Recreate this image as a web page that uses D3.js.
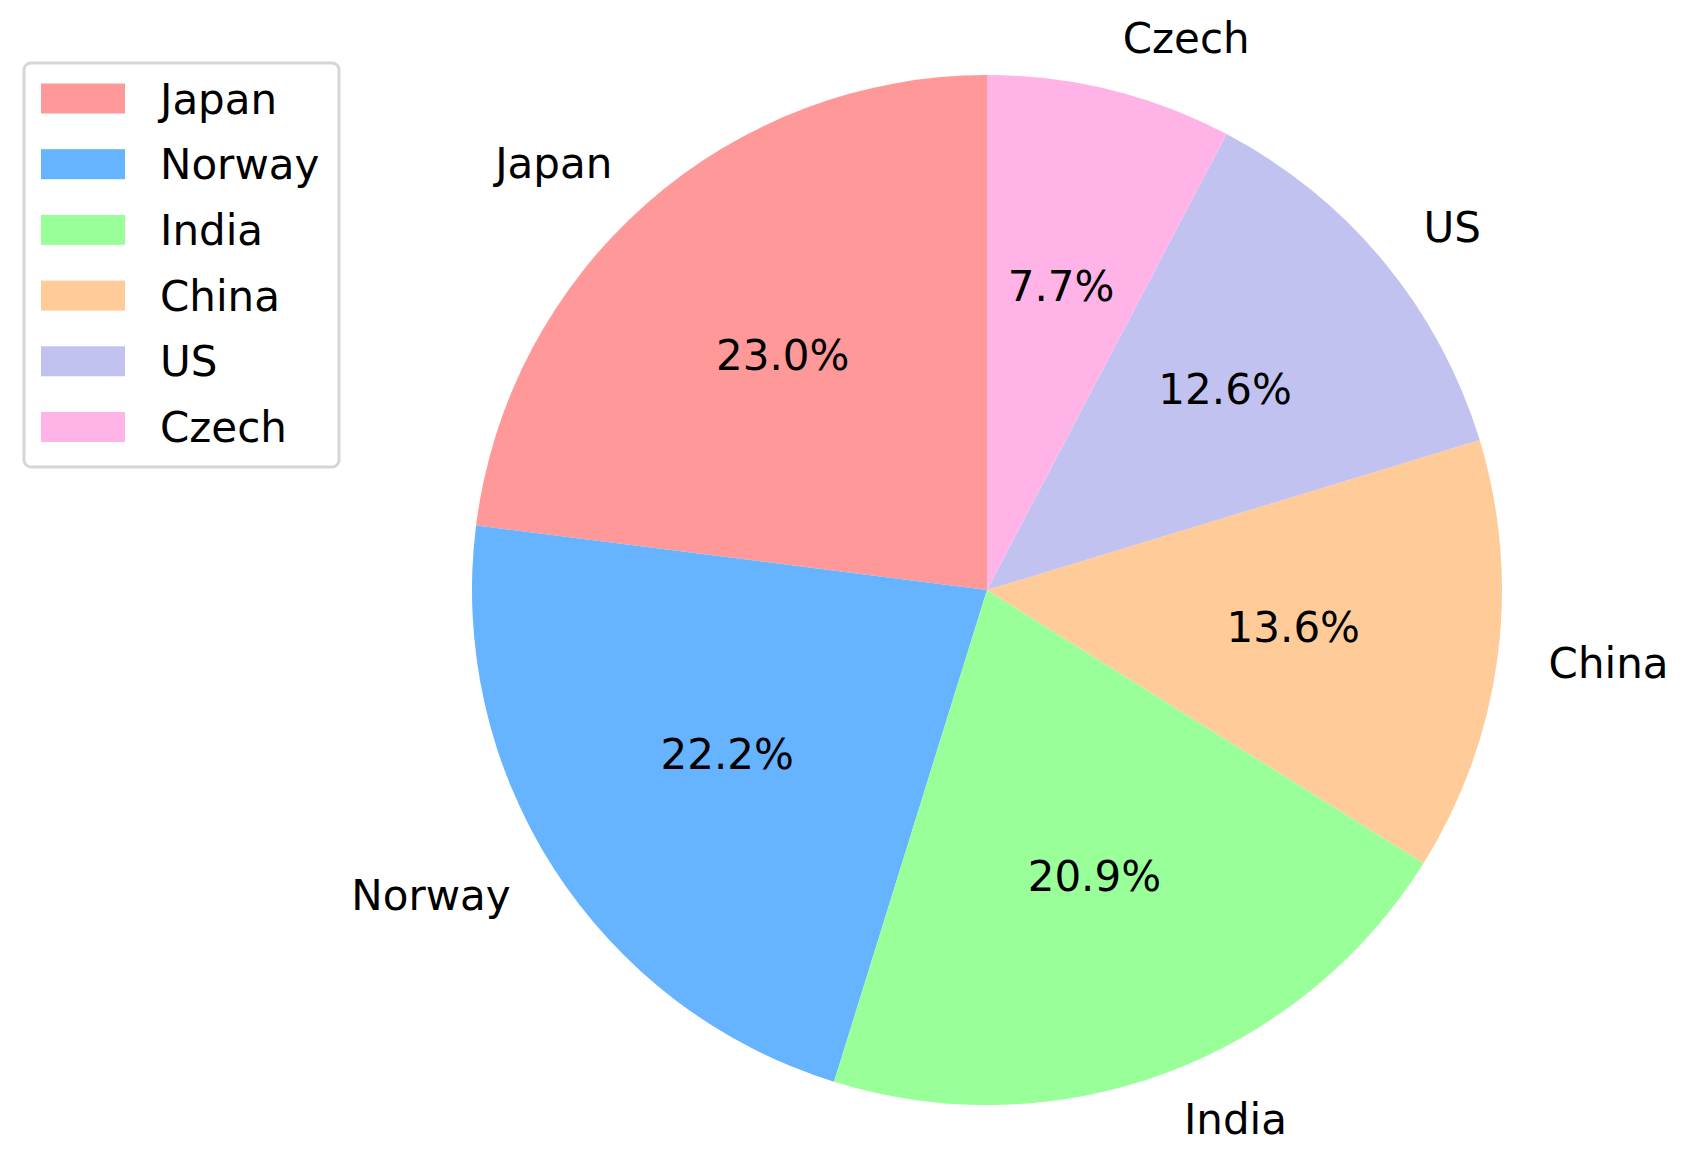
<!DOCTYPE html>
<html>
<head>
<meta charset="utf-8">
<script src="https://cdn.jsdelivr.net/npm/d3@7"></script>
<style>
html,body{margin:0;padding:0;background:#fff;}
text{font-family:"DejaVu Sans",sans-serif;fill:#000;}
</style>
</head>
<body>
<svg id="chart" width="1681" height="1153"></svg>
<script>
const categories = ["Japan", "Norway", "India", "China", "US", "Czech"];
const values = [23.0, 22.2, 20.9, 13.6, 12.6, 7.7];
const colors = ["#ff9999", "#66b3ff", "#99ff99", "#ffcc99", "#c2c2f0", "#ffb3e6"];

const W = 1681, H = 1153;
const cx = 987, cy = 590, R = 515;
const fs = 42;
const svg = d3.select("#chart");

const data = categories.map((c, i) => ({name: c, value: values[i], color: colors[i]}));
const total = d3.sum(values);

// matplotlib: start at 90deg, counter-clockwise. d3 angles are clockwise from 12 o'clock,
// so we go from 0 to -2PI.
const pie = d3.pie().value(d => d.value).sort(null).startAngle(0).endAngle(-2 * Math.PI);
const arcs = pie(data);
const arc = d3.arc().innerRadius(0).outerRadius(R);

const g = svg.append("g").attr("transform", `translate(${cx},${cy})`);
g.selectAll("path.slice").data(arcs).join("path")
  .attr("class", "slice")
  .attr("d", arc)
  .attr("fill", d => d.data.color);

function midPoint(d, r) {
  const a = (d.startAngle + d.endAngle) / 2; // clockwise from top
  return [r * Math.sin(a), -r * Math.cos(a)];
}

// outer labels at 1.1 R
g.selectAll("text.lab").data(arcs).join("text")
  .attr("class", "lab")
  .attr("x", d => midPoint(d, 1.1 * R)[0])
  .attr("y", d => midPoint(d, 1.1 * R)[1])
  .attr("dy", "0.31em")
  .attr("text-anchor", d => midPoint(d, 1)[0] > 0 ? "start" : "end")
  .style("font-size", fs + "px")
  .text(d => d.data.name);

// percentage labels at 0.6 R
g.selectAll("text.pct").data(arcs).join("text")
  .attr("class", "pct")
  .attr("x", d => midPoint(d, 0.6 * R)[0])
  .attr("y", d => midPoint(d, 0.6 * R)[1])
  .attr("dy", "0.27em")
  .attr("text-anchor", "middle")
  .style("font-size", fs + "px")
  .text(d => (d.data.value / total * 100).toFixed(1) + "%");

// legend
const lg = svg.append("g");
lg.append("rect")
  .attr("x", 24).attr("y", 63).attr("width", 315).attr("height", 404)
  .attr("rx", 7).attr("ry", 7)
  .attr("fill", "#fff").attr("stroke", "#d6d6d6").attr("stroke-width", 3);
const rowY = d3.scaleLinear().domain([0, 1]).range([98.5, 164.2]);
const items = lg.selectAll("g.item").data(data).join("g").attr("class", "item")
  .attr("transform", (d, i) => `translate(0,${rowY(i)})`);
items.append("rect")
  .attr("x", 41).attr("y", -15).attr("width", 84).attr("height", 30)
  .attr("fill", d => d.color);
items.append("text")
  .attr("x", 160).attr("y", 0).attr("dy", "0.36em")
  .style("font-size", fs + "px")
  .text(d => d.name);
</script>
</body>
</html>
